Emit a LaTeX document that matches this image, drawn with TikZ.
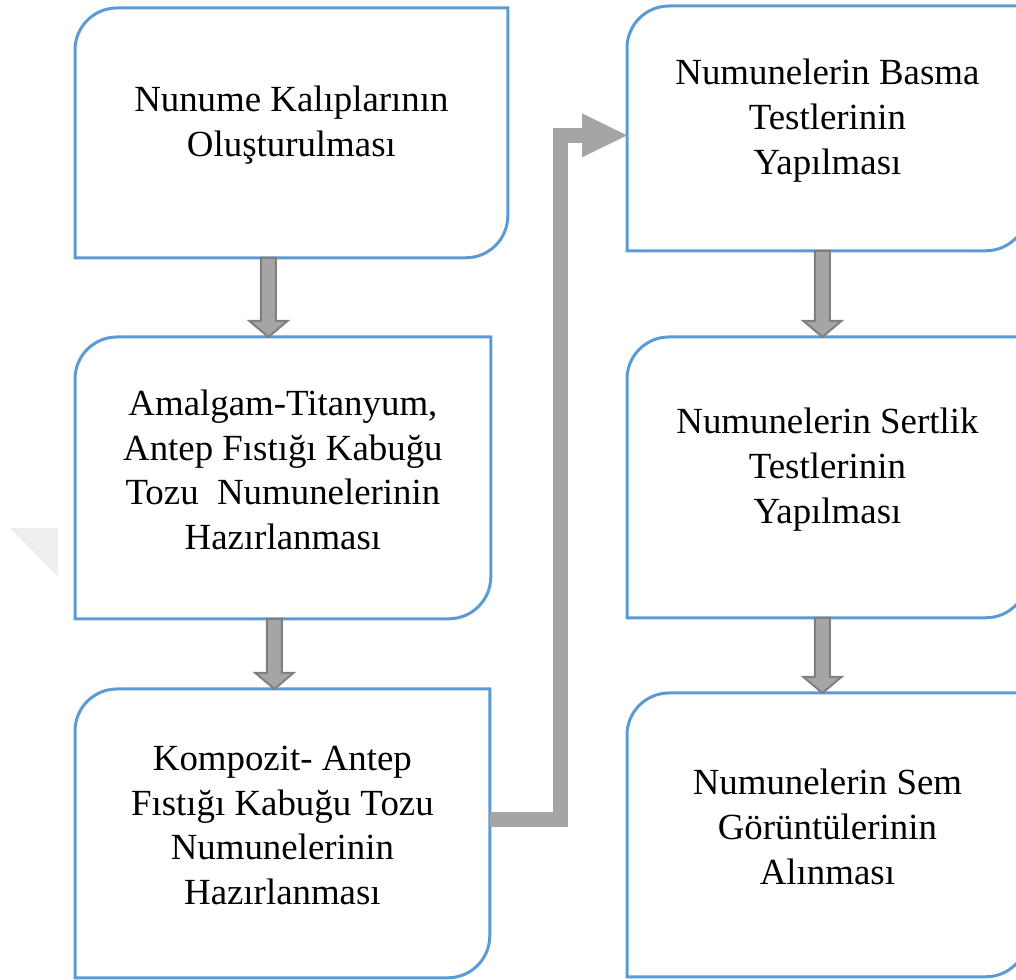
\documentclass[tikz,border=0pt]{standalone}
\usepackage{fontspec}
\setmainfont{Liberation Serif}
\usetikzlibrary{calc,arrows.meta}

\definecolor{stepblue}{HTML}{5B9BD5}
\definecolor{arrowgray}{HTML}{A5A5A5}
\definecolor{arrowedge}{HTML}{7F7F7F}
\definecolor{markgray}{HTML}{EEEEEE}
\newcommand{\steptextfont}{\fontsize{18.5}{22.5}\selectfont}
\newcommand{\flowarrow}[3]{%
    \draw[downarrow] let \p1=([xshift=#1]#2.south), \p2=(#3.north) in
        (\x1-3.75bp,\y1) -- (\x1+3.75bp,\y1) -- (\x1+3.75bp,\y2+8bp) -- (\x1+9.5bp,\y2+8bp)
        -- (\x1,\y2) -- (\x1-9.5bp,\y2+8bp) -- (\x1-3.75bp,\y2+8bp) -- cycle;}

\begin{document}
\begin{tikzpicture}[x=1bp,y=1bp]
    \tikzstyle{stepbox}=[rectangle, anchor=north west, inner sep=0pt]
    \tikzstyle{steptext}=[align=center, font=\steptextfont, yshift=4bp]
    \tikzstyle{stepline}=[draw=stepblue, line width=1.5bp]
    \tikzstyle{downarrow}=[fill=arrowgray, draw=arrowedge, line width=1bp]
    \tikzstyle{elbowarrow}=[draw=arrowgray, line width=7.5bp, -{Triangle[width=22bp, length=22.5bp, line width=0pt]}]

    \useasboundingbox (0,0) rectangle (508,490);
    \fill[markgray] (5,226) -- (29,226) -- (29,201.5) -- cycle;

    \node[stepbox, minimum width=216bp, minimum height=124.5bp,
        label={[steptext]center:{Nunume Kalıplarının\\Oluşturulması}}] (mold) at (37.5,486) {};
    \node[stepbox, minimum width=207.5bp, minimum height=140.5bp,
        label={[steptext]center:{Amalgam-Titanyum,\\Antep Fıstığı Kabuğu\\Tozu~ Numunelerinin\\Hazırlanması}}] (amalgam) at (37.5,321.5) {};
    \node[stepbox, minimum width=207bp, minimum height=144bp,
        label={[steptext]center:{Kompozit- Antep\\Fıstığı Kabuğu Tozu\\Numunelerinin\\Hazırlanması}}] (composite) at (37.5,145.5) {};
    \node[stepbox, minimum width=200bp, minimum height=122bp,
        label={[steptext]center:{Numunelerin Basma\\Testlerinin\\Yapılması}}] (press) at (313.5,487) {};
    \node[stepbox, minimum width=200bp, minimum height=140bp,
        label={[steptext]center:{Numunelerin Sertlik\\Testlerinin\\Yapılması}}] (hard) at (313.5,321.5) {};
    \node[stepbox, minimum width=200bp, minimum height=141.5bp,
        label={[steptext]center:{Numunelerin Sem\\Görüntülerinin\\Alınması}}] (sem) at (313.5,143.5) {};

    \foreach \n in {mold, amalgam, composite, press, hard, sem}
        \draw[stepline] (\n.south west) -- ([yshift=-21bp]\n.north west)
            arc[start angle=180, end angle=90, radius=21bp] -- (\n.north east)
            -- ([yshift=21bp]\n.south east) arc[start angle=0, end angle=-90, radius=21bp] -- cycle;

    \flowarrow{-11.5bp}{mold}{amalgam}
    \flowarrow{-4.25bp}{amalgam}{composite}
    \flowarrow{-2.5bp}{press}{hard}
    \flowarrow{-2.5bp}{hard}{sem}

    \draw[elbowarrow] ([yshift=7bp]composite.east) -- ++(35.25bp,0) |- ([yshift=-3.5bp]press.west);
\end{tikzpicture}
\end{document}
